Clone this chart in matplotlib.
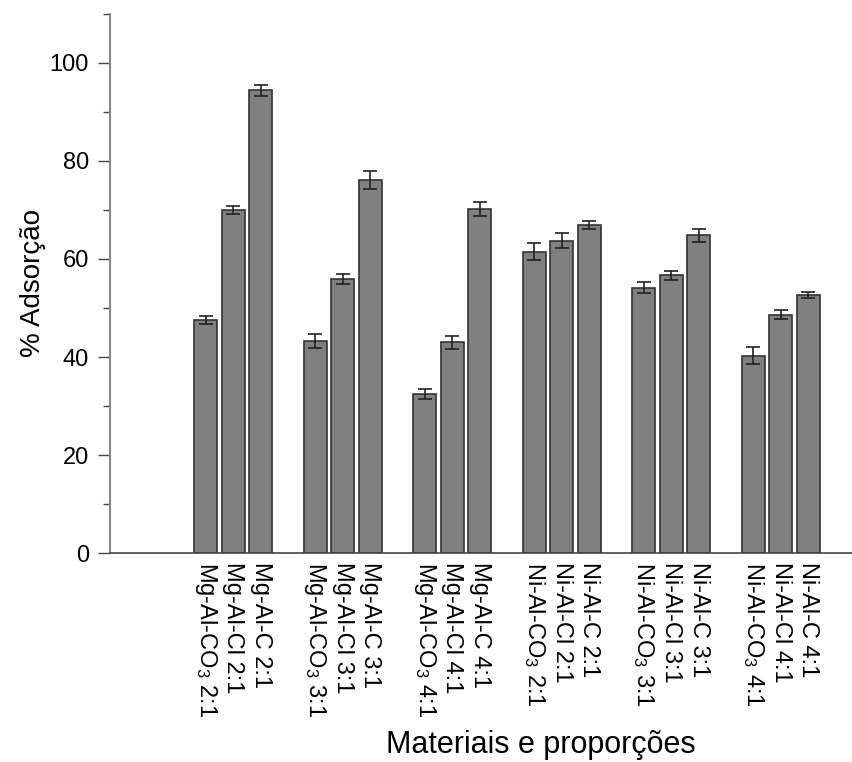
import numpy as np
import matplotlib
matplotlib.use('Agg')
from matplotlib import rcParams
rcParams['font.family'] = ['Liberation Sans', 'DejaVu Sans']
rcParams['mathtext.fontset'] = 'custom'
rcParams['mathtext.rm'] = 'Liberation Sans'
rcParams['mathtext.it'] = 'Liberation Sans'
rcParams['mathtext.default'] = 'regular'
import matplotlib.pyplot as plt

labels = ['Mg-Al-CO$_3$ 2:1', 'Mg-Al-Cl 2:1', 'Mg-Al-C 2:1',
          'Mg-Al-CO$_3$ 3:1', 'Mg-Al-Cl 3:1', 'Mg-Al-C 3:1',
          'Mg-Al-CO$_3$ 4:1', 'Mg-Al-Cl 4:1', 'Mg-Al-C 4:1',
          'Ni-Al-CO$_3$ 2:1', 'Ni-Al-Cl 2:1', 'Ni-Al-C 2:1',
          'Ni-Al-CO$_3$ 3:1', 'Ni-Al-Cl 3:1', 'Ni-Al-C 3:1',
          'Ni-Al-CO$_3$ 4:1', 'Ni-Al-Cl 4:1', 'Ni-Al-C 4:1']
adsorcao = [47.6, 69.9, 94.4,
            43.3, 55.9, 76.1,
            32.4, 43.0, 70.2,
            61.5, 63.7, 67.0,
            54.1, 56.7, 64.8,
            40.3, 48.6, 52.7]
erro = [0.8, 0.8, 1.1,
        1.45, 1.0, 1.9,
        1.0, 1.3, 1.5,
        1.7, 1.5, 0.8,
        1.1, 0.9, 1.4,
        1.8, 0.9, 0.65]


def main():
    # 3 bars per group, one empty slot between groups
    x = np.array([(i // 3) * 4 + i % 3 for i in range(len(adsorcao))])

    fig = plt.figure(figsize=(8.52, 7.62), dpi=100)
    ax = fig.add_axes([0.129, 0.274, 0.871, 0.708])

    ax.bar(x, adsorcao, width=0.84, color='#808080', edgecolor='#333333',
           linewidth=1.2, yerr=erro, capsize=5,
           error_kw=dict(ecolor='#222222', elinewidth=1.2, capthick=1.2))

    ax.set_xlim(-3.5, 23.6)
    ax.set_ylim(0, 110)
    ax.set_yticks([0, 20, 40, 60, 80, 100])
    ax.set_yticks(np.arange(10, 111, 20), minor=True)
    ax.tick_params(axis='y', which='major', length=9, width=1, labelsize=17,
                   color='#444444', pad=6)
    ax.tick_params(axis='y', which='minor', length=5, width=1, color='#444444')

    ax.set_xticks(x)
    ax.set_xticklabels(labels, rotation=270, fontsize=17, va='top', ha='center')
    ax.tick_params(axis='x', length=0, pad=6)

    for s in ['top', 'right']:
        ax.spines[s].set_visible(False)
    ax.spines['left'].set_color('#888888')
    ax.spines['left'].set_linewidth(1.5)
    ax.spines['bottom'].set_color('#444444')
    ax.spines['bottom'].set_linewidth(1.2)

    ax.set_ylabel('% Adsorção', fontsize=20, labelpad=3)
    fig.text(0.635, 0.012, 'Materiais e proporções', fontsize=22, ha='center')

    fig.savefig('out.png', dpi=100)


if __name__ == "__main__":
    main()
